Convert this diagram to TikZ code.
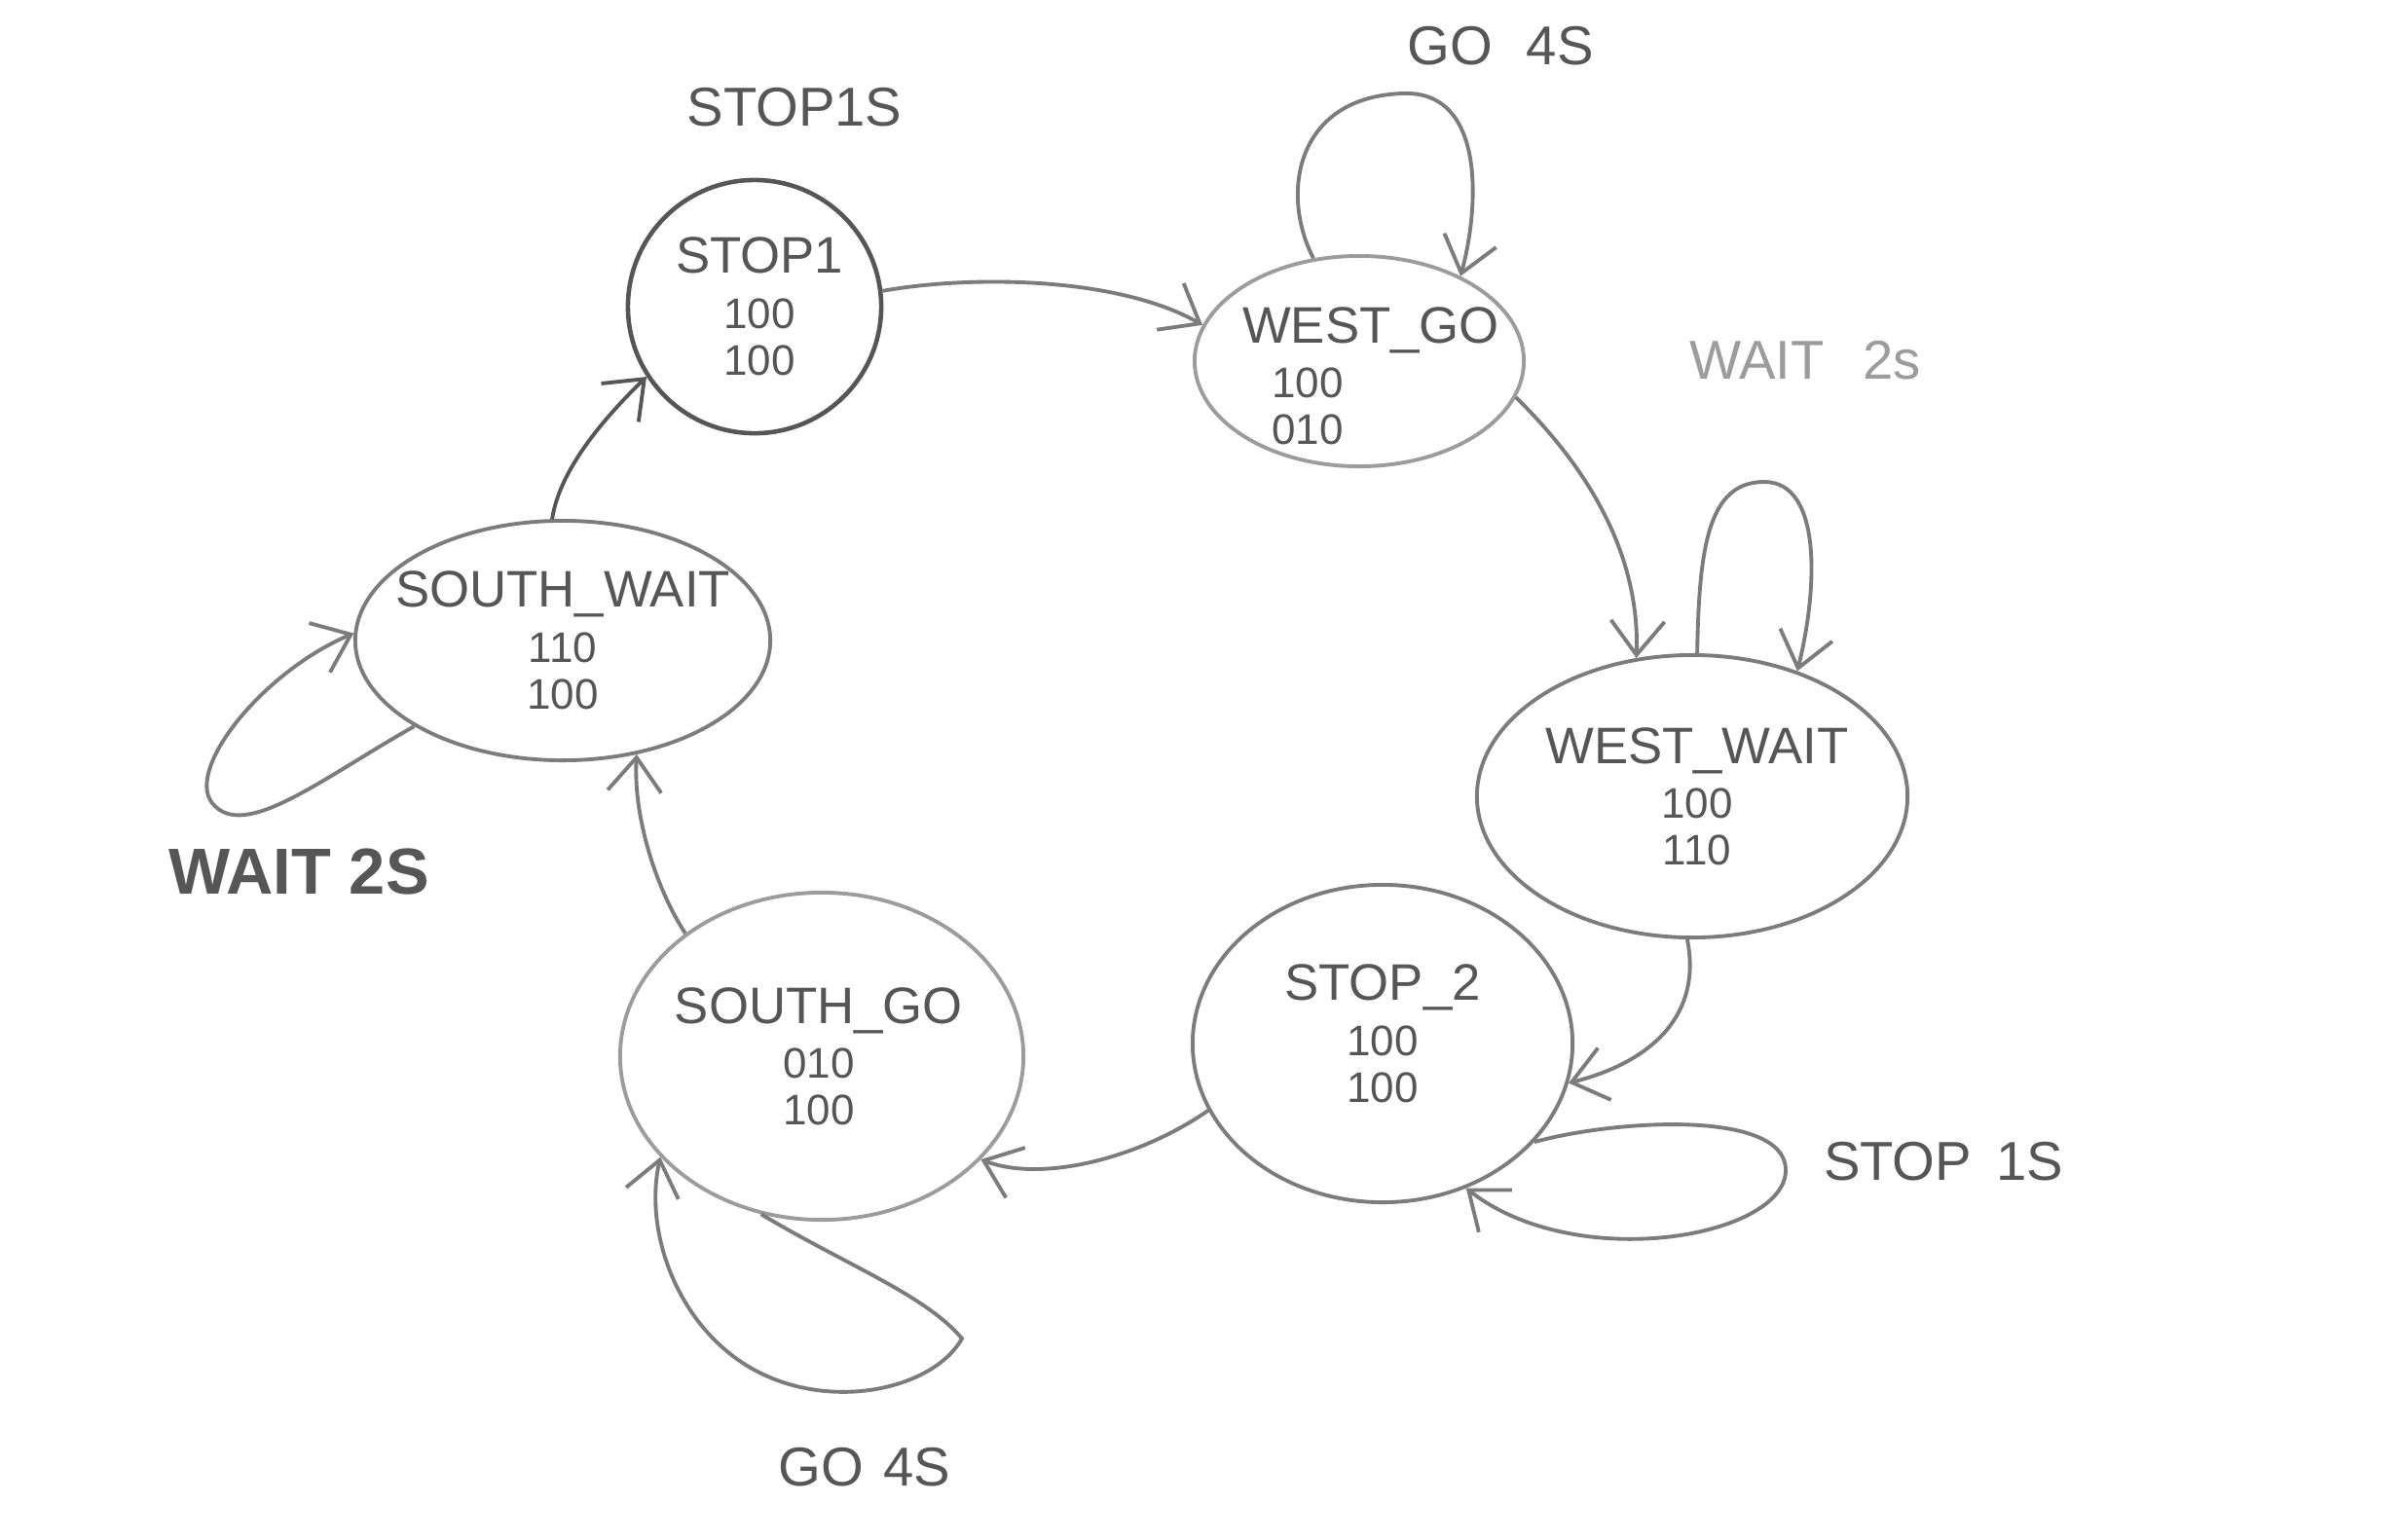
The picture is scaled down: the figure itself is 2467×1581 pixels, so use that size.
\documentclass[tikz,border=0pt]{standalone}
\usepackage{fontspec}
\setmainfont{Liberation Sans}
\usetikzlibrary{arrows.meta,shapes.geometric}
\definecolor{pencil}{HTML}{7C7C7C}
\definecolor{pencildark}{HTML}{565656}
\definecolor{pencillight}{HTML}{9C9C9C}
\newcommand\sttl[1]{{\fontsize{15pt}{14pt}\selectfont #1}\\[2.5pt]}
\begin{document}
\begin{tikzpicture}[x=0.01cm,y=-0.01cm,
  state/.style={ellipse, draw=pencil, line width=1.1pt, inner sep=0pt},
  stxt/.style={align=center, text=pencildark, inner sep=0pt, font=\fontsize{12.5pt}{13.6pt}\selectfont},
  arr/.style={draw=pencil, line width=1.1pt, -{Straight Barb[length=3.5mm,width=5.5mm]}},
  lbl/.style={text=pencildark, inner sep=0pt, font=\fontsize{16pt}{18pt}\selectfont}
]
\useasboundingbox[fill=white] (0,0) rectangle (2467,1581);

% states
\node[state, draw=pencildark, line width=1.3pt, minimum width=2.6cm, minimum height=2.6cm,
  label={[stxt, xshift=0.05cm]center:\sttl{STOP1}100\\100}] (s1) at (775,315) {};
\node[state, draw=pencillight, minimum width=3.38cm, minimum height=2.16cm,
  label={[stxt, xshift=0.12cm, yshift=-0.15cm]center:\sttl{WEST\_GO}100\rule{1.3cm}{0pt}\\010\rule{1.3cm}{0pt}}] (wg) at (1396,371) {};
\node[state, minimum width=4.42cm, minimum height=2.9cm,
  label={[stxt, xshift=0.05cm]center:\sttl{WEST\_WAIT}100\\110}] (ww) at (1738,818) {};
\node[state, minimum width=3.9cm, minimum height=3.26cm,
  label={[stxt, yshift=0.1cm]center:\sttl{STOP\_2}100\\100}] (s2) at (1420,1072) {};
\node[state, draw=pencillight, minimum width=4.14cm, minimum height=3.36cm,
  label={[stxt, xshift=-0.03cm]center:\sttl{SOUTH\_GO}010\\100}] (sg) at (844,1085) {};
\node[state, minimum width=4.26cm, minimum height=2.46cm,
  label={[stxt]center:\sttl{SOUTH\_WAIT}110\\100}] (sw) at (578,658) {};

% transitions between states
\draw[arr] (s1.7) .. controls (1000,282) and (1150,285) .. (wg.167);
\draw[arr] (wg.-13) .. controls (1620,470) and (1685,560) .. (ww.112);
\draw[arr] (ww.268) .. controls (1748,1040) and (1700,1090) .. (s2.-12);
\draw[arr] (s2.201) .. controls (1170,1190) and (1070,1215) .. (sg.-33);
\draw[arr] (sg.138) .. controls (675,915) and (650,840) .. (sw.-57);
\draw[arr, draw=pencildark] (sw.95) .. controls (575,480) and (625,425) .. (s1.213);

% self loops
\draw[arr] (wg.114) .. controls (1315,200) and (1330,100) .. (1440,96)
  .. controls (1525,92) and (1520,210) .. (wg.40);
\draw[arr] (ww.88) .. controls (1745,560) and (1755,495) .. (1812,495)
  .. controls (1870,495) and (1868,600) .. (ww.50);
\draw[arr] (s2.-33) .. controls (1660,1150) and (1830,1140) .. (1834,1200)
  .. controls (1838,1270) and (1620,1310) .. (s2.-60);
\draw[arr] (sg.-111) .. controls (870,1300) and (950,1330) .. (988,1375)
  .. controls (960,1425) and (860,1450) .. (780,1410)
  .. controls (700,1370) and (660,1270) .. (sg.212);
\draw[arr] (sw.210) .. controls (330,800) and (250,865) .. (218,825)
  .. controls (190,790) and (270,690) .. (sw.178);

% loop labels
\node[lbl] (l1) at (816,110) {STOP1S};
\node[lbl] (l2) at (1541,47) {GO\hspace{0.35cm}4S};
\node[lbl, text=pencillight] (l3) at (1854,370) {WAIT\hspace{0.4cm}2s};
\node[lbl] (l4) at (1996,1193) {STOP\hspace{0.25cm}1S};
\node[lbl] (l5) at (888,1507) {GO\hspace{0.2cm}4S};
\node[lbl, font=\bfseries\fontsize{19pt}{22pt}\selectfont] (l6) at (307,895) {WAIT 2S};
\end{tikzpicture}
\end{document}
